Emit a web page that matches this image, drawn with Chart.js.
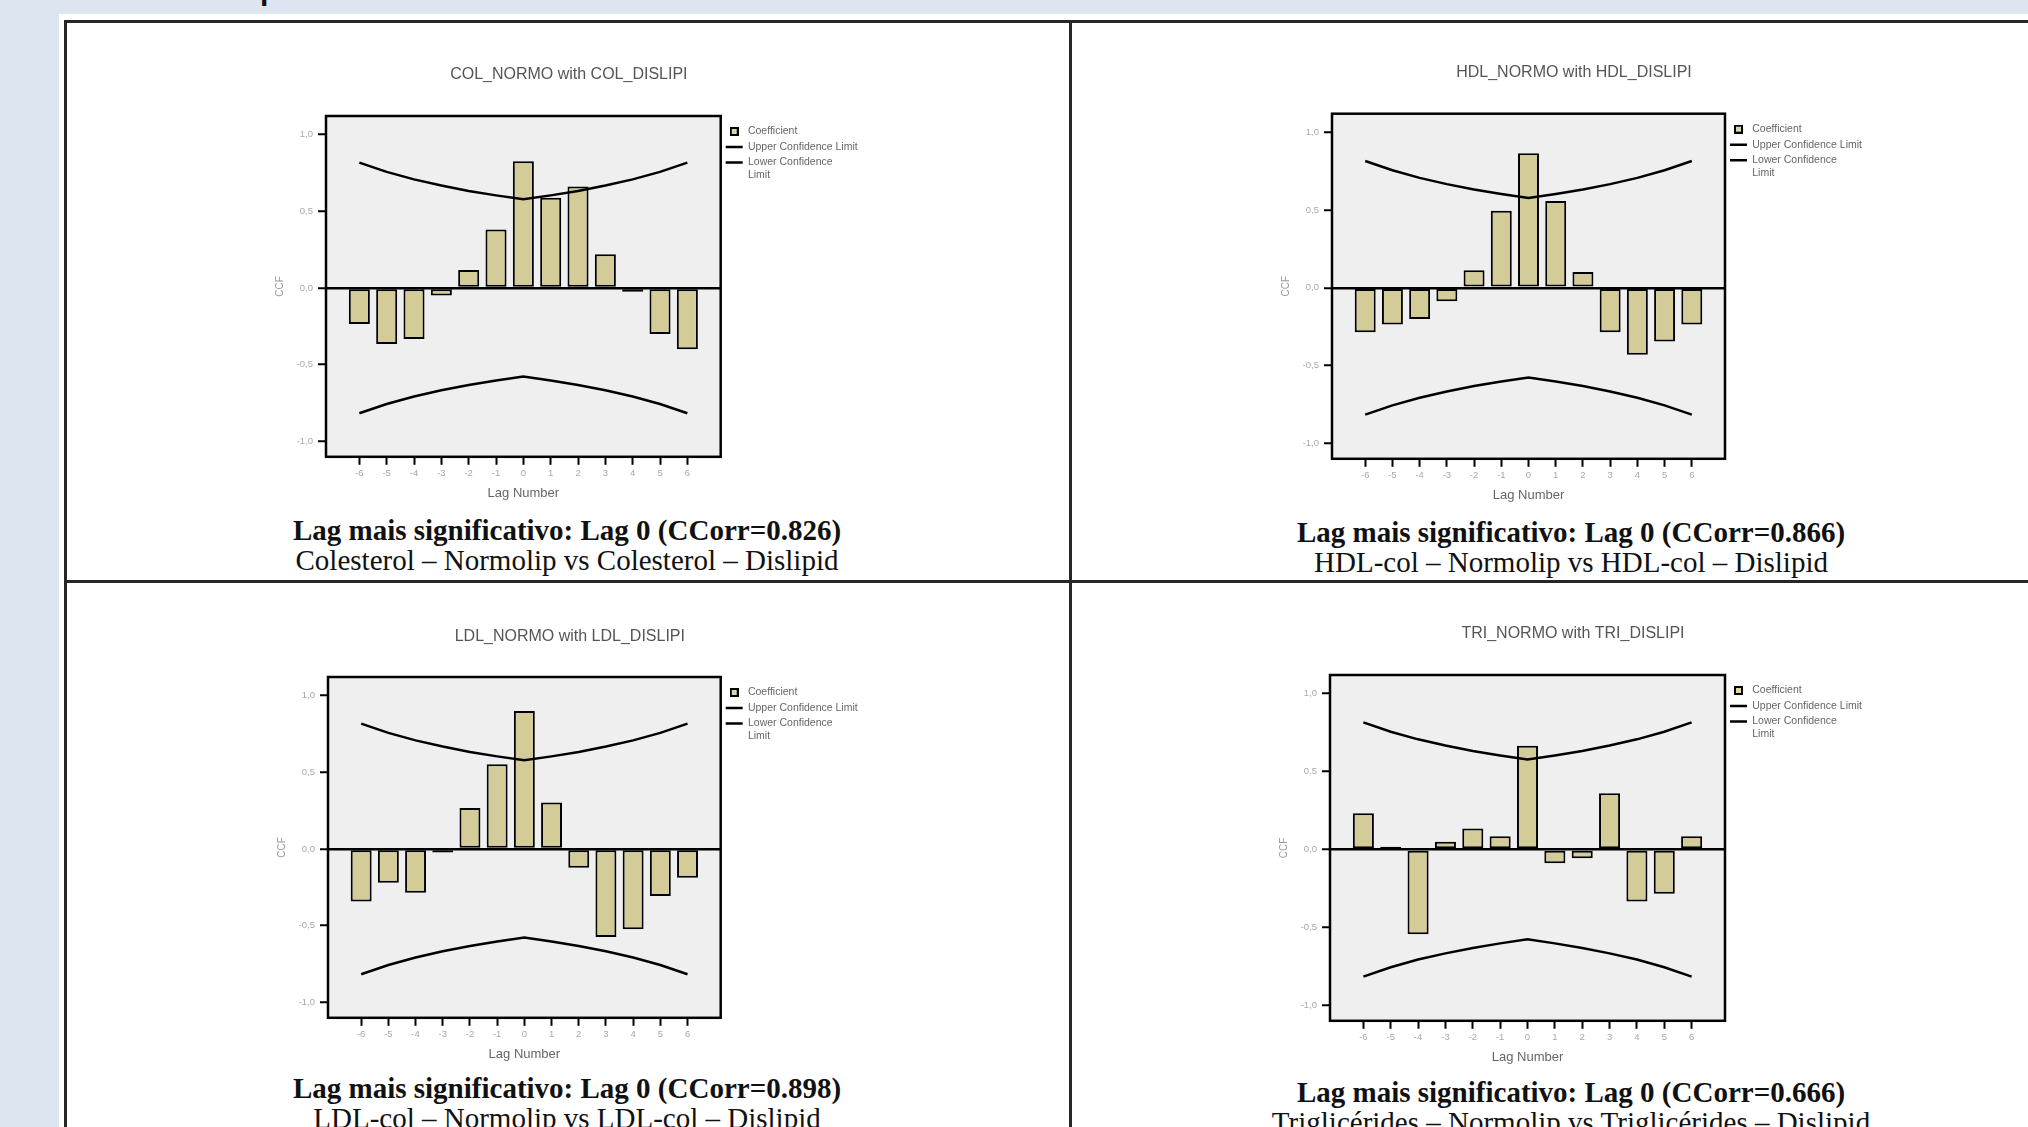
<!DOCTYPE html>
<html>
<head>
<meta charset="utf-8">
<script src="https://cdn.jsdelivr.net/npm/chart.js@4.4.0/dist/chart.umd.min.js"></script>
<style>
html, body { margin: 0; padding: 0; }
body { width: 2028px; height: 1127px; background: #dde5f1; position: relative; overflow: hidden; font-family: 'Liberation Sans', Arial, sans-serif; }
#page { position: absolute; left: 59px; top: 14px; width: 1969px; height: 1113px; background: #fff; }
.rule { position: absolute; background: #262626; }
canvas { position: absolute; }
.caption { position: absolute; width: 1004px; text-align: center; font-family: 'Liberation Serif', 'Times New Roman', serif; font-size: 29px; line-height: 30px; color: #111; white-space: nowrap; }
.caption b { display: block; }
#frag { position: absolute; left: 260px; top: -25px; font: bold 30px 'Liberation Sans', Arial, sans-serif; line-height: 30px; color: #111; }
</style>
</head>
<body>
<div id="page"></div>
<div id="frag">p</div>
<div class="rule" style="left:64px;top:20px;width:1964px;height:3px"></div>
<div class="rule" style="left:64px;top:20px;width:3px;height:1107px"></div>
<div class="rule" style="left:1069px;top:20px;width:3px;height:1107px"></div>
<div class="rule" style="left:64px;top:580px;width:1964px;height:3px"></div>

<canvas id="c0"></canvas>
<canvas id="c1"></canvas>
<canvas id="c2"></canvas>
<canvas id="c3"></canvas>

<div class="caption" id="cap0" style="left:65px;top:515px"></div>
<div class="caption" id="cap1" style="left:1069px;top:517px"></div>
<div class="caption" id="cap2" style="left:65px;top:1073px"></div>
<div class="caption" id="cap3" style="left:1069px;top:1077px"></div>

<script>
// lags and cross-correlation values
const lags = [-6, -5, -4, -3, -2, -1, 0, 1, 2, 3, 4, 5, 6];
const colCcf = [-0.235, -0.366, -0.332, -0.05, 0.117, 0.381, 0.826, 0.587, 0.661, 0.220, -0.025, -0.300, -0.400];
const hdlCcf = [-0.286, -0.236, -0.200, -0.086, 0.113, 0.495, 0.866, 0.559, 0.101, -0.286, -0.431, -0.345, -0.236];
const ldlCcf = [-0.342, -0.221, -0.286, -0.023, 0.267, 0.551, 0.898, 0.302, -0.123, -0.574, -0.523, -0.307, -0.188];
const triCcf = [0.232, 0.018, -0.545, 0.050, 0.134, 0.084, 0.666, -0.089, -0.057, 0.361, -0.334, -0.284, 0.084];

// confidence limits (same in every panel)
const upperLimit = [0.816, 0.756, 0.707, 0.667, 0.632, 0.603, 0.577, 0.603, 0.632, 0.667, 0.707, 0.756, 0.816];
const lowerLimit = [-0.816, -0.756, -0.707, -0.667, -0.632, -0.603, -0.577, -0.603, -0.632, -0.667, -0.707, -0.756, -0.816];

const yTicks = [-1, -0.5, 0, 0.5, 1];

const chartTitles = ['COL_NORMO with COL_DISLIPI', 'HDL_NORMO with HDL_DISLIPI', 'LDL_NORMO with LDL_DISLIPI', 'TRI_NORMO with TRI_DISLIPI'];
const captionBold = ['Lag mais significativo: Lag 0 (CCorr=0.826)', 'Lag mais significativo: Lag 0 (CCorr=0.866)', 'Lag mais significativo: Lag 0 (CCorr=0.898)', 'Lag mais significativo: Lag 0 (CCorr=0.666)'];
const captionText = ['Colesterol \u2013 Normolip vs Colesterol \u2013 Dislipid', 'HDL-col \u2013 Normolip vs HDL-col \u2013 Dislipid', 'LDL-col \u2013 Normolip vs LDL-col \u2013 Dislipid', 'Triglic\u00e9rides \u2013 Normolip vs Triglic\u00e9rides \u2013 Dislipid'];
const legendNames = ['Coefficient', 'Upper Confidence Limit', ['Lower Confidence', 'Limit']];
const series = [colCcf, hdlCcf, ldlCcf, triCcf];

// where each plot box sits on the page
const boxes = [
    { l: 326, r: 720.7, t: 116, b: 456.6, ty: 74.6, cx: 566 },
    { l: 1332, r: 1725, t: 113.7, b: 459, ty: 72.7, cx: 1570 },
    { l: 327.7, r: 720.7, t: 677, b: 1017.6, ty: 636.8, cx: 567 },
    { l: 1330, r: 1725, t: 675, b: 1020.4, ty: 634, cx: 1570 }
];

const FONT = "'Liberation Sans', Arial, sans-serif";
const BAR_FILL = '#d3cc99';
const Y_AXIS_W = 56;
const X_AXIS_H = 48.2;
const TITLE_FS = 16, TITLE_PAD = 10;
const LEG_FS = 10.5, LEG_PAD = 5, LEG_BOX = 17;

// legend width, worked out the same way Chart.js does it
const mctx = document.createElement('canvas').getContext('2d');
mctx.font = 'normal ' + LEG_FS + 'px ' + FONT;
const longest = Math.max(...legendNames.flat().map(t => mctx.measureText(t).width));
const LEGEND_W = LEG_PAD + LEG_BOX + LEG_FS / 2 + longest + 10;

// little square used as the "Coefficient" legend marker
const swatch = document.createElement('canvas');
swatch.width = 9; swatch.height = 9;
const sctx = swatch.getContext('2d');
sctx.fillStyle = '#000'; sctx.fillRect(0, 0, 9, 9);
sctx.fillStyle = '#dcd6a6'; sctx.fillRect(2, 2, 5, 5);

const plotFrame = {
    id: 'plotFrame',
    beforeDraw(chart) {
        const { ctx, chartArea: a } = chart;
        ctx.save();
        ctx.fillStyle = '#efefef';
        ctx.fillRect(a.left, a.top, a.width, a.height);
        ctx.restore();
    },
    afterDatasetsDraw(chart) {
        const { ctx, chartArea: a } = chart;
        ctx.save();
        ctx.strokeStyle = '#000';
        ctx.lineWidth = 2.5;
        ctx.strokeRect(a.left, a.top, a.width, a.height);
        ctx.restore();
    }
};

function makePanel(i) {
    const bx = boxes[i];
    const L = Math.round(bx.l - Y_AXIS_W);
    const T = Math.round(bx.ty - TITLE_PAD - TITLE_FS * 0.6);
    const W = Math.round(2 * (bx.cx - L));
    const H = Math.round(bx.b + X_AXIS_H - T);
    const padRight = L + W - LEGEND_W - bx.r;
    const titlePadBottom = bx.t - T - TITLE_PAD - TITLE_FS * 1.2;

    const canvas = document.getElementById('c' + i);
    canvas.width = W; canvas.height = H;
    canvas.style.left = L + 'px'; canvas.style.top = T + 'px';

    const vals = series[i];

    new Chart(canvas.getContext('2d'), {
        type: 'bar',
        data: {
            datasets: [
                {
                    type: 'line',
                    label: 'Upper Confidence Limit',
                    data: lags.map((k, j) => ({ x: k, y: upperLimit[j] })),
                    borderColor: '#000',
                    borderWidth: 2.5,
                    pointRadius: 0,
                    tension: 0,
                    order: 0
                },
                {
                    type: 'line',
                    label: 'Lower Confidence Limit',
                    data: lags.map((k, j) => ({ x: k, y: lowerLimit[j] })),
                    borderColor: '#000',
                    borderWidth: 2.5,
                    pointRadius: 0,
                    tension: 0,
                    order: 0
                },
                {
                    label: 'Coefficient',
                    data: lags.map((k, j) => ({ x: k, y: vals[j] })),
                    backgroundColor: BAR_FILL,
                    borderColor: '#000',
                    borderWidth: 2,
                    borderSkipped: false,
                    categoryPercentage: 1,
                    barPercentage: 0.77,
                    order: 1
                }
            ]
        },
        options: {
            responsive: false,
            animation: false,
            layout: { padding: { left: 0, right: padRight, top: 0, bottom: 0 } },
            scales: {
                x: {
                    type: 'linear',
                    offset: false,
                    min: -7.22,
                    max: 7.22,
                    afterBuildTicks: s => { s.ticks = lags.map(v => ({ value: v })); },
                    afterFit: s => { s.height = X_AXIS_H; },
                    border: { display: false },
                    grid: { offset: false, drawOnChartArea: false, tickLength: 8, tickColor: '#000', tickWidth: 2 },
                    ticks: { color: '#a8a8a8', font: { size: 9.5, family: FONT }, padding: 3, maxRotation: 0, autoSkip: false },
                    title: { display: true, text: 'Lag Number', color: '#666', font: { size: 13, family: FONT }, padding: { top: 4, bottom: 4 } }
                },
                y: {
                    min: -1.1,
                    max: 1.12,
                    afterBuildTicks: s => { s.ticks = yTicks.map(v => ({ value: v })); },
                    afterFit: s => { s.width = Y_AXIS_W; },
                    border: { display: false },
                    grid: {
                        color: c => (c.tick && c.tick.value === 0) ? '#000' : 'rgba(0,0,0,0)',
                        lineWidth: 2.5,
                        tickLength: 8,
                        tickColor: '#000',
                        tickWidth: 2
                    },
                    ticks: {
                        color: '#a8a8a8',
                        font: { size: 9.5, family: FONT },
                        padding: 5,
                        callback: v => v.toFixed(1).replace('.', ',')
                    },
                    title: { display: true, text: 'CCF', color: '#999', font: { size: 10, family: FONT }, padding: 4 }
                }
            },
            plugins: {
                title: {
                    display: true,
                    text: chartTitles[i],
                    color: '#555',
                    font: { size: TITLE_FS, weight: 'normal', family: FONT },
                    padding: { top: TITLE_PAD, bottom: titlePadBottom }
                },
                legend: {
                    position: 'right',
                    align: 'start',
                    fullSize: false,
                    maxWidth: LEGEND_W + 20,
                    title: { display: true, text: '', font: { size: 1 }, padding: 2 },
                    labels: {
                        usePointStyle: true,
                        pointStyleWidth: LEG_BOX,
                        padding: LEG_PAD,
                        color: '#a8a8a8',
                        font: { size: LEG_FS, family: FONT },
                        generateLabels: () => [
                            { text: legendNames[0], pointStyle: swatch, fillStyle: BAR_FILL, strokeStyle: '#000', lineWidth: 1, datasetIndex: 2 },
                            { text: legendNames[1], pointStyle: 'line', strokeStyle: '#000', lineWidth: 2.5, datasetIndex: 0 },
                            { text: legendNames[2], pointStyle: 'line', strokeStyle: '#000', lineWidth: 2.5, datasetIndex: 1 }
                        ]
                    }
                },
                tooltip: { enabled: false }
            }
        },
        plugins: [plotFrame]
    });

    const cap = document.getElementById('cap' + i);
    cap.innerHTML = '<b>' + captionBold[i] + '</b>' + captionText[i];
}

for (let i = 0; i < 4; i++) makePanel(i);
</script>
</body>
</html>
